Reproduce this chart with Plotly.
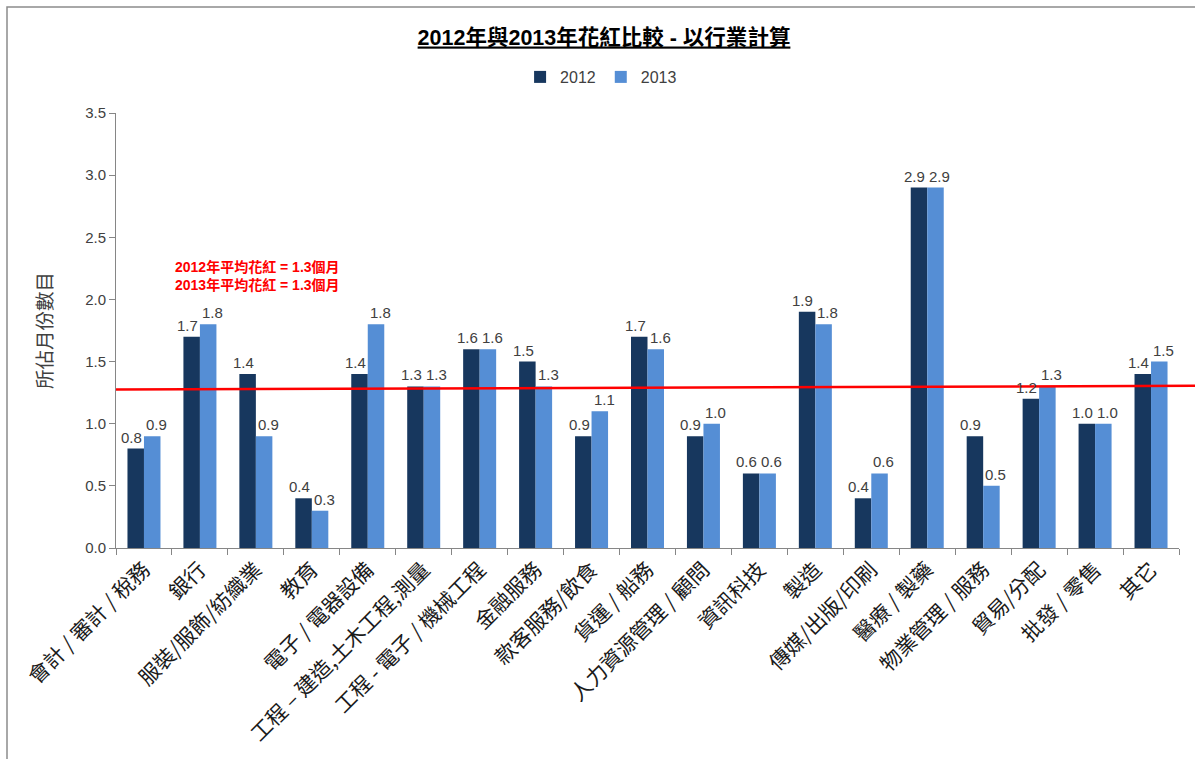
import plotly.graph_objects as go

categories = [
    "會計 / 審計 / 稅務", "銀行", "服裝/服飾/紡織業", "教育", "電子 / 電器設備",
    "工程 – 建造,土木工程,測量", "工程 - 電子 / 機械工程", "金融服務", "款客服務/飲食",
    "貨運 / 船務", "人力資源管理 / 顧問", "資訊科技", "製造", "傳媒/出版/印刷",
    "醫療 / 製藥", "物業管理 / 服務", "貿易/分配", "批發 / 零售", "其它",
]
values_2012 = [0.8, 1.7, 1.4, 0.4, 1.4, 1.3, 1.6, 1.5, 0.9, 1.7, 0.9, 0.6, 1.9, 0.4, 2.9, 0.9, 1.2, 1.0, 1.4]
values_2013 = [0.9, 1.8, 0.9, 0.3, 1.8, 1.3, 1.6, 1.3, 1.1, 1.6, 1.0, 0.6, 1.8, 0.6, 2.9, 0.5, 1.3, 1.0, 1.5]
series_names = ["2012", "2013"]
avg_line_y = [1.275, 1.305]
avg_notes = ["2012年平均花紅 = 1.3個月", "2013年平均花紅 = 1.3個月"]
avg_note_y = [2.258, 2.113]

BASE_FONT = "Liberation Sans, Noto Sans CJK TC, sans-serif"
CJK_FONT = "Noto Sans CJK TC, sans-serif"

fig = go.Figure()
series = [(series_names[0], values_2012, "#17375E", -12.5),
          (series_names[1], values_2013, "#558ED5", 12.5)]
for name, vals, color, shift in series:
    fig.add_trace(go.Bar(
        x=categories, y=vals, name=name, marker_color=color,
        marker_line_width=0, cliponaxis=False,
    ))
    # value labels, placed above each bar
    for cat, v in zip(categories, vals):
        fig.add_annotation(x=cat, y=v, text=f"{v:.1f}", showarrow=False,
                           xref="x", yref="y", xanchor="center", yanchor="bottom",
                           xshift=shift, yshift=1,
                           font=dict(size=15, color="#404040", family=BASE_FONT))

fig.update_layout(
    width=1195, height=759, autosize=False,
    margin=dict(l=116, r=16, t=113, b=211, autoexpand=False),
    paper_bgcolor="white", plot_bgcolor="white",
    barmode="group", bargap=0.41, bargroupgap=0.0,
    font=dict(family=BASE_FONT, color="#404040"),
    title=dict(
        text="<b><u>2012年與2013年花紅比較 - 以行業計算</u></b>",
        x=604 / 1195, xref="container", xanchor="center",
        y=1 - 37 / 759, yref="container", yanchor="middle",
        font=dict(size=21.5, color="#000000", family=BASE_FONT),
    ),
    legend=dict(
        orientation="h", x=0.503, xref="container", xanchor="center",
        y=1 - 77 / 759, yref="container", yanchor="middle",
        font=dict(size=16, color="#404040"), itemwidth=30,
        traceorder="normal",
    ),
    showlegend=True,
)

fig.update_yaxes(
    range=[0, 3.5], dtick=0.5, tickformat=".1f", automargin=False,
    showgrid=False, zeroline=False,
    showline=True, linecolor="#868686", linewidth=1,
    ticks="outside", ticklen=6, tickcolor="#868686",
    tickfont=dict(size=15, color="#404040"),
    title=dict(text="所佔月份數目", font=dict(size=19.5, color="#404040", family=CJK_FONT), standoff=27),
)
fig.update_xaxes(
    automargin=False,
    showgrid=False, showline=True, linecolor="#868686", linewidth=1,
    ticks="outside", ticklen=6, tickcolor="#868686", tickson="boundaries",
    tickangle=-45, tickfont=dict(size=21, color="#1a1a1a", family=CJK_FONT),
)

# average line
fig.add_shape(type="line", xref="paper", yref="y", x0=0, x1=1.02,
              y0=avg_line_y[0], y1=avg_line_y[1],
              line=dict(color="#FF0000", width=2.5))

# notes
for note, ny in zip(avg_notes, avg_note_y):
    fig.add_annotation(text=f"<b>{note}</b>", xref="paper", yref="y", x=0.0536, y=ny,
                       xanchor="left", yanchor="middle", showarrow=False,
                       font=dict(size=14, color="#FF0000", family=BASE_FONT))

# outer frame
fig.add_shape(type="rect", xref="paper", yref="paper",
              x0=(7 - 116) / 1063, x1=(1200 - 116) / 1063,
              y0=(548 - 765) / 435, y1=(548 - 7) / 435,
              line=dict(color="#8C8C8C", width=1.5), layer="below")

fig.write_html("out.html", post_script="document.body.style.margin='0';",
               config={"displayModeBar": False})
